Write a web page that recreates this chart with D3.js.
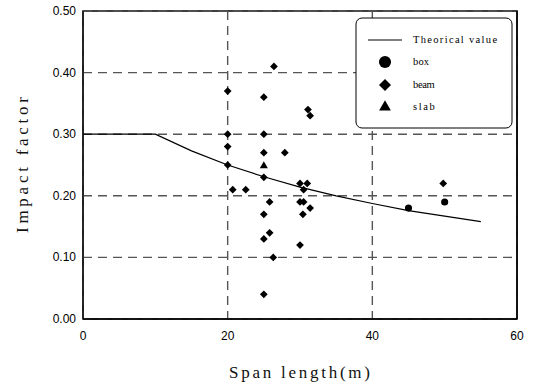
<!DOCTYPE html>
<html>
<head>
<meta charset="utf-8">
<script src="https://cdn.jsdelivr.net/npm/d3@7"></script>
<style>
  body { margin: 0; background: #fff; }
  .tick-label { font-family: "Liberation Sans", Arial, sans-serif; font-size: 12px; fill: #000; }
  .axis-title { font-family: "Liberation Serif", "Times New Roman", serif; font-size: 17px; fill: #111; }
  .legend-text { font-family: "Liberation Serif", "Times New Roman", serif; font-size: 10.5px; fill: #000; }
</style>
</head>
<body>
<svg id="chart" width="536" height="386"></svg>
<script>
"use strict";

// tick values
const xTicks = [0, 20, 40, 60];
const yTicks = [0, 0.1, 0.2, 0.3, 0.4, 0.5];

// theoretical value curve
const theoSpan   = [0, 10, 15, 20, 25, 30, 35, 40, 45, 50, 55];
const theoFactor = [0.30, 0.30, 0.273, 0.25, 0.231, 0.214, 0.20, 0.1875, 0.176, 0.167, 0.158];

// box girders
const boxSpan   = [45, 50];
const boxFactor = [0.18, 0.19];

// beam girders
const beamSpan   = [26.4, 20, 25, 31.1, 31.4, 20, 25, 20, 25, 27.9, 20, 25, 20.7, 22.5, 30, 31, 30.5,
                    25.8, 30, 30.5, 31.4, 25, 30.4, 25.8, 25, 30, 26.3, 25, 49.8];
const beamFactor = [0.41, 0.37, 0.36, 0.34, 0.33, 0.30, 0.30, 0.28, 0.27, 0.27, 0.25, 0.23, 0.21, 0.21, 0.22, 0.22, 0.21,
                    0.19, 0.19, 0.19, 0.18, 0.17, 0.17, 0.14, 0.13, 0.12, 0.10, 0.04, 0.22];

// slab
const slabSpan   = [25];
const slabFactor = [0.25];

const legendLabels = ["Theorical value", "box", "beam", "slab"];

//-----------------------------------------------------------
const svg    = d3.select("#chart"),
      margin = {top: 11, right: 19, bottom: 67, left: 83},
      width  = 536 - margin.left - margin.right,
      height = 386 - margin.top - margin.bottom,
      x      = d3.scaleLinear().domain([0, 60]).range([0, width]),
      y      = d3.scaleLinear().domain([0, 0.5]).range([height, 0]),
      g      = svg.append("g").attr("transform", `translate(${margin.left},${margin.top})`);

// frame
g.append("rect")
  .attr("width", width).attr("height", height)
  .attr("fill", "none").attr("stroke", "#000").attr("stroke-width", 1.5);

// dashed grid
g.selectAll(".grid-y").data(yTicks).enter().append("line")
  .attr("x1", 0).attr("x2", width)
  .attr("y1", d => y(d)).attr("y2", d => y(d))
  .attr("stroke", "#555").attr("stroke-width", 1.4).attr("stroke-dasharray", "9,6");
g.selectAll(".grid-x").data(xTicks).enter().append("line")
  .attr("y1", 0).attr("y2", height)
  .attr("x1", d => x(d)).attr("x2", d => x(d))
  .attr("stroke", "#555").attr("stroke-width", 1.4).attr("stroke-dasharray", "9,6");

// solid axis lines on top
g.append("line").attr("x1", 0).attr("x2", width).attr("y1", height).attr("y2", height)
  .attr("stroke", "#000").attr("stroke-width", 1.5);
g.append("line").attr("x1", 0).attr("x2", 0).attr("y1", 0).attr("y2", height)
  .attr("stroke", "#000").attr("stroke-width", 1);
g.append("line").attr("x1", width).attr("x2", width).attr("y1", 0).attr("y2", height)
  .attr("stroke", "#000").attr("stroke-width", 1.5);

// tick labels
g.selectAll(".ylab").data(yTicks).enter().append("text")
  .attr("class", "tick-label")
  .attr("x", -7).attr("y", d => y(d) + 4)
  .attr("text-anchor", "end")
  .text(d => d3.format(".2f")(d));
g.selectAll(".xlab").data(xTicks).enter().append("text")
  .attr("class", "tick-label")
  .attr("x", d => x(d)).attr("y", height + 21)
  .attr("text-anchor", "middle")
  .text(d => d);

// axis titles - stretched to the monospaced look of the original
svg.append("text").attr("class", "axis-title")
  .attr("x", 229).attr("y", 378)
  .attr("textLength", 141).attr("lengthAdjust", "spacing")
  .text("Span length(m)");
svg.append("text").attr("class", "axis-title")
  .attr("transform", "translate(28,233) rotate(-90)")
  .attr("textLength", 136).attr("lengthAdjust", "spacing")
  .text("Impact factor");

// theoretical line
const theo = theoSpan.map((s, i) => [s, theoFactor[i]]);
g.append("path")
  .datum(theo)
  .attr("fill", "none").attr("stroke", "#000").attr("stroke-width", 1.2)
  .attr("d", d3.line().x(d => x(d[0])).y(d => y(d[1])));

// markers
const circleSym  = d3.symbol().type(d3.symbolCircle).size(40);
const diamondSym = d3.symbol().type(d3.symbolSquare).size(30);
const triSym     = d3.symbol().type(d3.symbolTriangle).size(28);

g.selectAll(".beam").data(beamSpan.map((s, i) => [s, beamFactor[i]])).enter().append("path")
  .attr("d", diamondSym)
  .attr("transform", d => `translate(${x(d[0])},${y(d[1])}) rotate(45)`)
  .attr("fill", "#000");
g.selectAll(".box").data(boxSpan.map((s, i) => [s, boxFactor[i]])).enter().append("path")
  .attr("d", circleSym)
  .attr("transform", d => `translate(${x(d[0])},${y(d[1])})`)
  .attr("fill", "#000");
g.selectAll(".slab").data(slabSpan.map((s, i) => [s, slabFactor[i]])).enter().append("path")
  .attr("d", triSym)
  .attr("transform", d => `translate(${x(d[0])},${y(d[1]) + 1})`)
  .attr("fill", "#000");

// legend, handmade
const lg = svg.append("g").attr("transform", "translate(356,18)");
lg.append("rect")
  .attr("width", 156).attr("height", 110).attr("rx", 6).attr("ry", 6)
  .attr("fill", "#fff").attr("stroke", "#000").attr("stroke-width", 1);
lg.append("line").attr("x1", 12).attr("x2", 46).attr("y1", 22).attr("y2", 22)
  .attr("stroke", "#000").attr("stroke-width", 1.2);
lg.append("path").attr("d", d3.symbol().type(d3.symbolCircle).size(115)())
  .attr("transform", "translate(29,44)");
lg.append("path").attr("d", d3.symbol().type(d3.symbolSquare).size(72)())
  .attr("transform", "translate(29,67) rotate(45)");
lg.append("path").attr("d", d3.symbol().type(d3.symbolTriangle).size(60)())
  .attr("transform", "translate(29,89)");
lg.selectAll(".legend-text").data(legendLabels).enter().append("text")
  .attr("class", "legend-text")
  .attr("x", 57).attr("y", (d, i) => 25 + i * 22.3)
  .attr("textLength", d => d.length * 5.67 - 1).attr("lengthAdjust", "spacing")
  .text(d => d);
</script>
</body>
</html>
